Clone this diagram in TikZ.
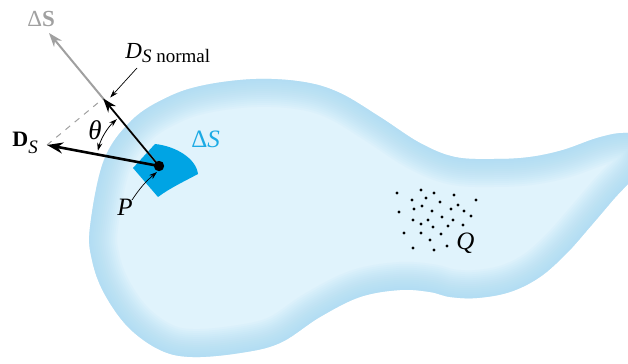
\documentclass[tikz,border=0pt]{standalone}
\usepackage{fontspec}
\setmainfont{Liberation Serif}
\usepackage{xcolor}
\usepackage{tikz}
\usetikzlibrary{arrows.meta,calc}

\definecolor{blobcore}{RGB}{224,243,252}
\definecolor{blobedge}{RGB}{160,214,243}
\definecolor{patchblue}{RGB}{0,164,228}
\definecolor{labelblue}{RGB}{28,170,228}
\definecolor{vecgray}{RGB}{160,160,160}
\newcommand{\fs}[1]{\fontsize{#1}{#1}\selectfont}
\newcommand{\lowsub}[3]{\raisebox{-#1}{\fs{#2}#3}}
\newcommand{\blobpath}{plot[smooth cycle,tension=0.6] coordinates {
  (90,137) (104,204) (132,244) (168,267) (205,279) (256,285) (304,282)
  (340,271) (380,247) (420,221) (455,207) (495,205) (530,207) (563,214)
  (597,226) (623,231) (642,226) (640,196) (613,164) (590,137) (567,111)
  (540,87) (510,72) (477,66) (450,67) (430,72) (400,74) (360,67)
  (320,47) (280,21) (240,11) (192,7) (160,14) (128,37) (104,71) (92,104)}}

\begin{document}
\begin{tikzpicture}[x=0.5pt, y=0.5pt,
  vec/.style={-{Stealth[length=7pt,width=5pt]}},
  leader/.style={line width=0.35pt,-{Stealth[length=4pt,width=2.6pt]}},
  lab/.style={inner sep=0pt,anchor=base west,font=\fs{12.5}}]
  \useasboundingbox (0,0) rectangle (628,364);
  \clip (0,0) rectangle (628,364);

  % the charged region, light in the middle and darker at the rim
  \fill[blobcore] \blobpath;
  \begin{scope}
    \clip \blobpath;
    \foreach \w in {2,4,...,28}
      \draw[blobedge,line width=\w pt,opacity=0.07] \blobpath;
  \end{scope}

  % surface element
  \fill[patchblue] (133,196) -- (155,220)
    .. controls (175,218) and (196,206) .. (198,190)
    .. controls (185,183) and (170,176) .. (158,167) -- cycle;
  \node[lab,labelblue] (dslab) at (191,216) {Δ\textit{S}};

  % vectors at P
  \coordinate (P) at (159,198);
  \coordinate (gend) at (49,331);
  \coordinate (dsend) at (47,219);
  \coordinate (nend) at ($(P)!(dsend)!(gend)$);
  \draw[vecgray,line width=1pt,vec] (P) -- (gend);
  \draw[vecgray,dashed,line width=0.5pt] (dsend) -- (nend);
  \draw[line width=0.8pt,vec] (P) -- (nend);
  \draw[line width=1.3pt,-{Stealth[length=8pt,width=5.5pt]}] (P) -- (dsend);
  \fill (P) circle (2.6pt);

  % angle between them
  \draw[line width=0.4pt,{Stealth[length=4pt,width=2.6pt]}-{Stealth[length=4pt,width=2.6pt]}]
    ($(P)+(132:31.5pt)$) arc[start angle=132, end angle=166, radius=31.5pt];
  \node[lab,anchor=base,font=\fs{13.5}] (thlab) at (95,224) {\textit{θ}};

  % labels
  \node[lab,vecgray,font=\fs{11.5}] (glab) at (27,337) {Δ\textbf{S}};
  \node[lab,font=\fs{11}] (dlab) at (12,217) {\textbf{D}\lowsub{3.5pt}{9.5}{\textit{S}}};
  \node[lab,font=\fs{11.5}] (nlab) at (125,305)
    {\textit{D}\lowsub{2pt}{9.5}{\textit{S} normal}};
  \coordinate (nfoot) at (137,296);
  \coordinate (ntip) at ($(nend)+(7,1)$);
  \draw[leader] (nfoot) -- (ntip);

  \node[lab] (plab) at (117,148) {\textit{P}};
  \coordinate (pfoot) at (132,164);
  \coordinate (ptip) at (157,192);
  \draw[leader] (pfoot) to[bend left=8] (ptip);

  % field point Q among the charges
  \foreach \q in {(397,171),(421,174),(434,171),(412,164),(426,166),(454,169),
    (476,164),(440,162),(422,158),(399,152),(414,155),(432,153),(451,155),
    (458,159),(464,153),(471,148),(442,147),(413,144),(428,144),(453,144),
    (421,140),(433,137),(448,138),(463,139),(404,131),(421,131),(441,130),
    (430,124),(413,116),(434,114),(447,118)}
    \fill \q circle (0.8pt);
  \node[lab] (qlab) at (456,114) {\textit{Q}};
\end{tikzpicture}
\end{document}
